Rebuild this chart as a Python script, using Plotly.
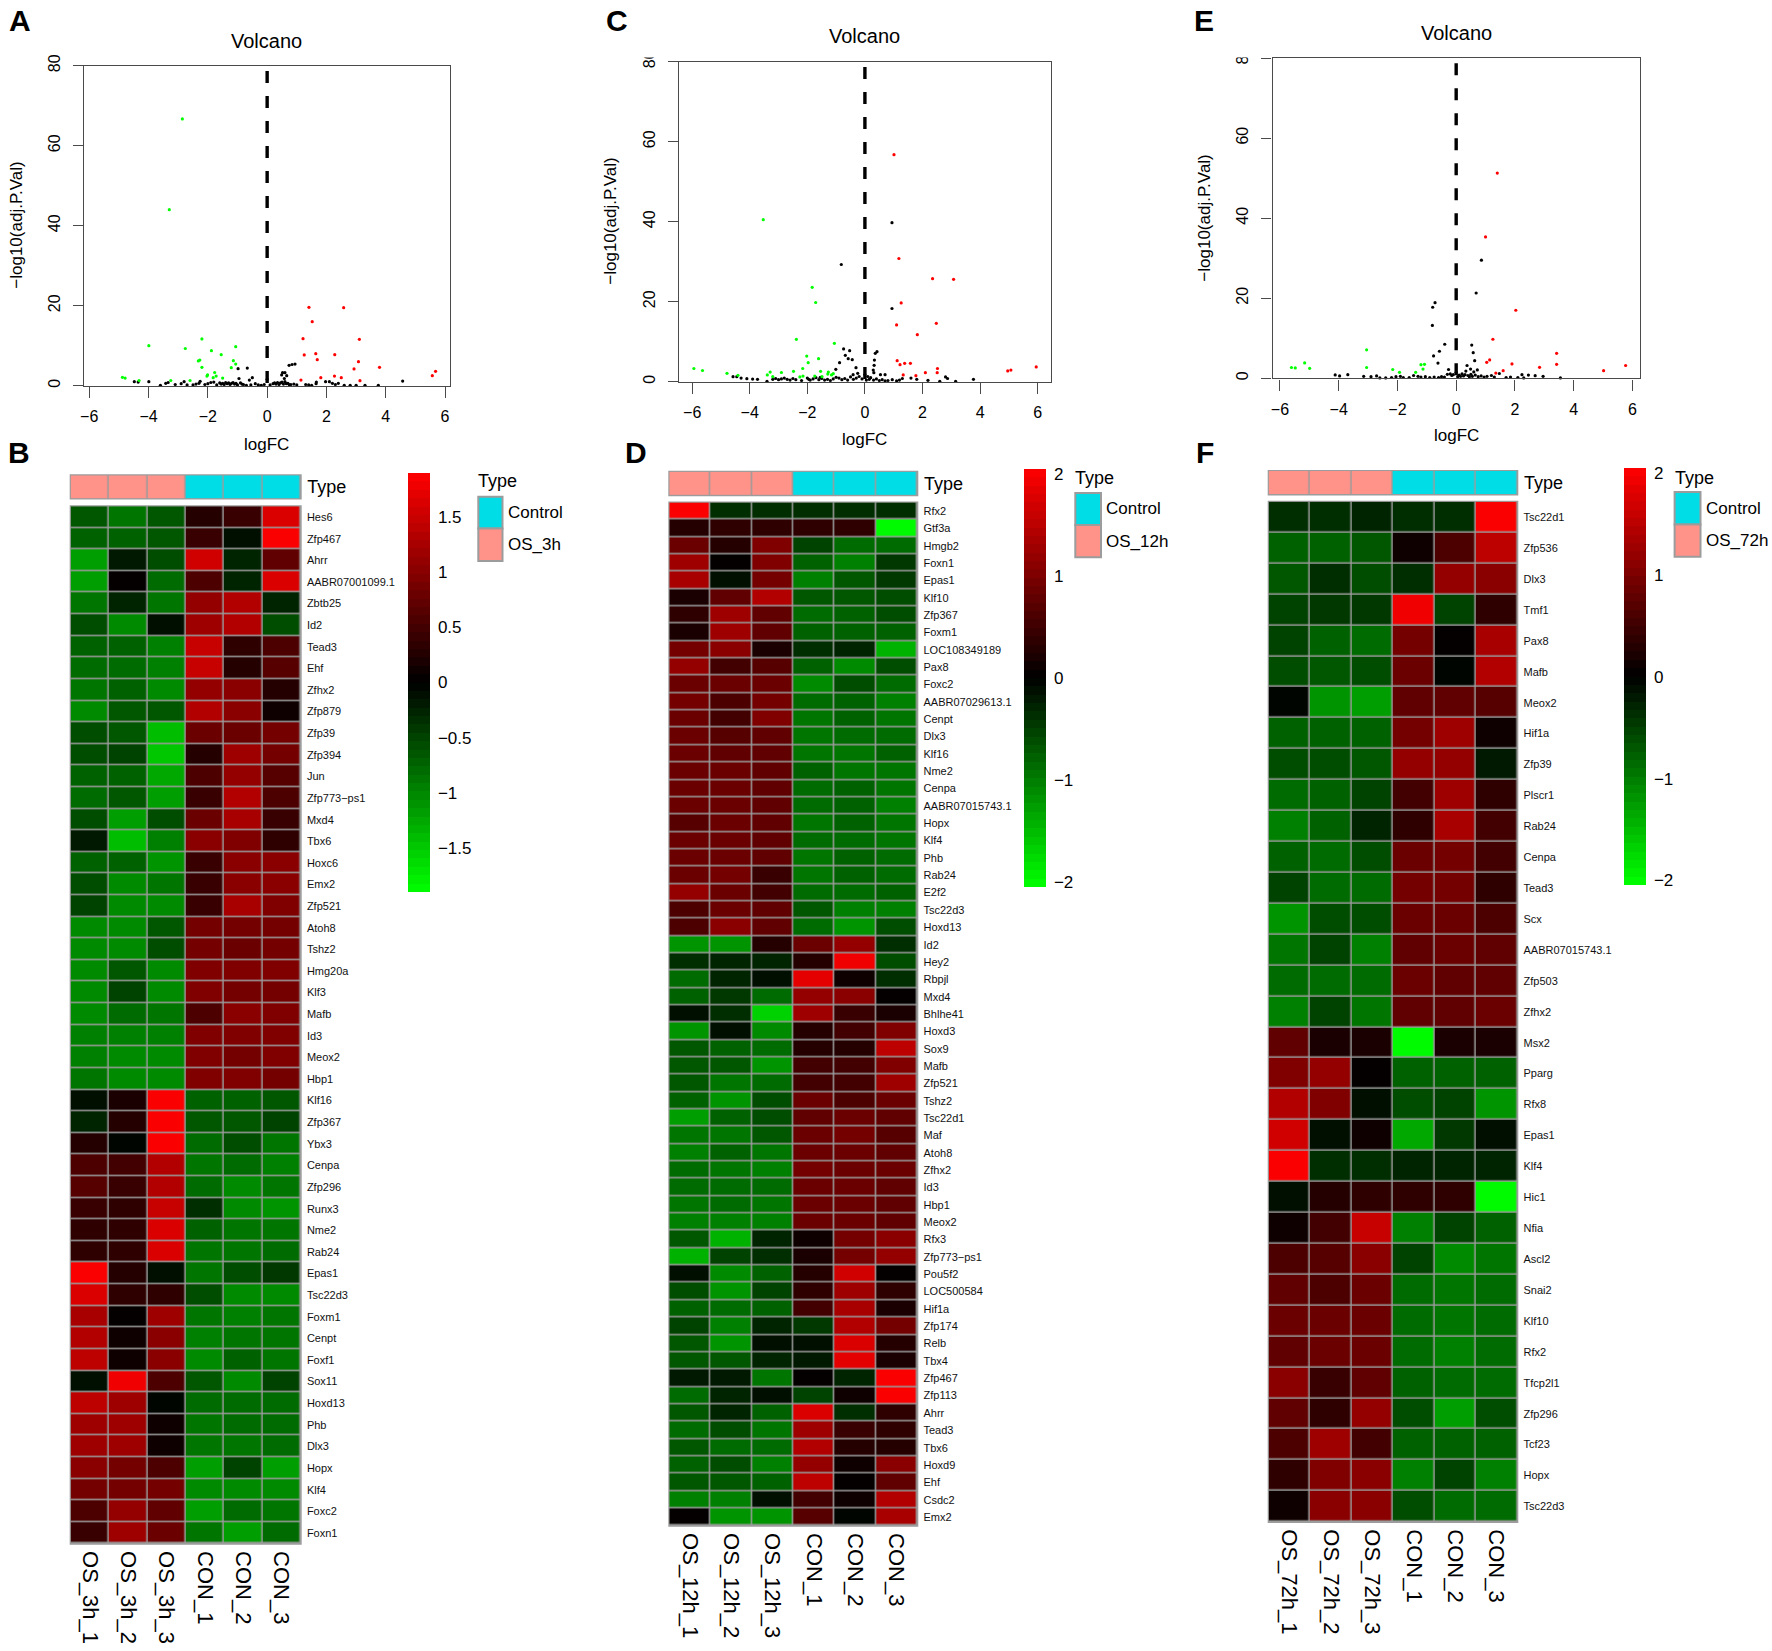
#!/usr/bin/env python3
"""Volcano plots and heatmaps for OS 3h / 12h / 72h vs control (panels A-F)."""

import plotly.graph_objects as go

W, H = 1772, 1651
FONT = "Liberation Sans"

# --- volcano data (logFC, -log10 adj.P) ---
a_green_x = [-2.86, -3.3, -3.99, -2.2, -2.76, -1.06, -1.88, -1.55, -1.14, -1.06, -2.27, -2.32, -2.2, -1.21, -1.77, -2.01, -2.03, -1.72, -1.82, -1.5, -4.88, -4.79, -4.32, -3.25, -2.6]
a_green_y = [66.7, 44, 10, 11.7, 9.3, 9.75, 8.75, 7.75, 6.25, 5.4, 6.4, 6.2, 4.6, 4.5, 3.3, 2.7, 2.4, 2.4, 2, 1.9, 2.1, 1.9, 1.3, 1.3, 1.3]
a_red_x = [1.41, 2.58, 1.52, 1.21, 3.11, 1.25, 1.64, 2.28, 1.69, 3.08, 3.79, 2.93, 5.68, 5.57, 2.27, 2.5, 1.81, 1.14, 3.13]
a_red_y = [19.6, 19.5, 16, 11.75, 11.6, 7.7, 8, 7.75, 6.5, 6, 4.6, 4.2, 3.6, 2.5, 2.4, 2, 2, 1.4, 1.25]
a_black_x = [4.57, 0.74, 0.84, 0.94, -0.67, -0.98, 0.52, 0.6, 0.49, 0.66, 0.58, -0.5, -0.95, -0.6, -4.48, -3.99, -4.35, -3.34, -3.42, -2.8, -2.26, 1.97, 2.1, 1.66,
             -3.6, -3.1, -2.9, -2.7, -2.5, -2.4, -2.3, -2.1, -2.0, -1.9, -1.8, -1.7, -1.6, -1.55, -1.5, -1.45, -1.4, -1.35, -1.3, -1.25, -1.2, -1.15, -1.1, -1.05, -1.0, -0.9, -0.85, -0.8, -0.7, -0.55, -0.4, -0.3, -0.2, -0.1,
             0.0, 0.1, 0.2, 0.25, 0.3, 0.35, 0.4, 0.45, 0.5, 0.55, 0.6, 0.65, 0.7, 0.75, 0.8, 0.9, 1.0, 1.3, 1.4, 1.5, 1.65, 2.2, 2.3, 2.4, 2.6, 2.8, 3.0, 3.3, 3.75]
a_black_y = [1.15, 5.1, 5.3, 5.4, 4.4, 4.25, 3.25, 3.25, 2.7, 2.5, 1.8, 2, 1.8, 1.4, 1, 1, 0.9, 0.8, 0.6, 1, 1.1, 1, 1, 0.9,
             0.1, 0.3, 0.5, 0.2, 0.2, 0.4, 0.6, 0.3, 0.5, 0.8, 0.9, 0.2, 0.7, 0.4, 0.6, 0.3, 0.8, 0.5, 0.7, 0.3, 0.6, 0.8, 0.4, 0.6, 0.2, 0.7, 0.4, 0.3, 0.1, 0.2, 0.5, 0.2, 0.1, 0.3,
             1.6, 0.2, 0.5, 0.7, 0.4, 0.8, 0.3, 0.7, 0.9, 0.4, 1.0, 0.5, 0.6, 0.2, 0.3, 0.4, 0.2, 0.3, 0.2, 0.1, 0.5, 0.6, 0.3, 0.6, 0.1, 0.1, 0.1, 0.1, 0.1]

c_green_x = [-3.53, -1.83, -1.71, -2.38, -1.06, -2.02, -1.61, -1.97, -5.94, -5.64, -4.79, -4.41, -3.39, -3.29, -3.2, -2.9, -2.48, -2.16, -2.26, -2.15, -1.74, -1.54, -1.49, -1.27, -1.29, -1.16, -1.1]
c_green_y = [40.5, 23.6, 19.8, 10.6, 9.6, 6.4, 5.75, 4.75, 3.3, 2.8, 2.1, 1.6, 1.7, 2.4, 1.25, 2.3, 2.6, 3.3, 1.2, 1.4, 1.4, 2.6, 1.25, 2.4, 1.9, 1.7, 2]
c_red_x = [1.01, 1.18, 2.35, 3.08, 1.26, 2.48, 1.1, 1.82, 1.12, 1.22, 1.38, 1.58, 2.52, 2.51, 2.1, 1.33, 1.77, 5.95, 5.07, 4.96]
c_red_y = [56.75, 30.8, 25.75, 25.6, 19.7, 14.6, 14.2, 11.75, 5.25, 4.25, 4.6, 4.6, 3.3, 2.25, 2.25, 1.7, 1.5, 3.7, 2.9, 2.7]
c_black_x = [0.94, -0.82, 0.94, -0.74, -0.53, 0.42, 0.36, -0.68, -0.58, -0.44, 0.33, 0.32, -0.88, -0.31, -1.01, 0.29, 0.31, -0.25, -0.41, 0.54, 0.7, -4.58, -4.45, -4.3, -4.1, -3.9, -3.73, 2.8, 2.87, 3.77, 2.19,
             -3.4, -3.2, -3.1, -3.0, -2.9, -2.8, -2.7, -2.6, -2.5, -2.4, -2.2, -2.0, -1.95, -1.9, -1.8, -1.7, -1.6, -1.55, -1.5, -1.4, -1.3, -1.2, -1.1, -1.0, -0.9, -0.8, -0.7, -0.6, -0.5, -0.4, -0.3, -0.2, -0.1,
             0.0, 0.05, 0.1, 0.15, 0.2, 0.3, 0.4, 0.5, 0.6, 0.7, 0.8, 0.95, 1.1, 1.2, 1.3, 1.6, 1.8, 2.6, 3.15]
c_black_y = [39.75, 29.3, 18.3, 8.2, 7.75, 7.5, 7.1, 6.6, 5.75, 5.5, 5.4, 4.1, 4.75, 3.5, 3.1, 2.9, 2.25, 2.1, 1.75, 1.75, 1.75, 1.25, 1.25, 0.9, 0.75, 0.65, 0.6, 1.2, 0.8, 0.6, 0.35,
             0.1, 0.6, 0.8, 0.5, 0.7, 0.9, 0.6, 0.4, 0.8, 0.5, 0.3, 0.9, 0.6, 0.4, 0.7, 1.0, 0.5, 1.1, 0.8, 0.4, 0.6, 0.3, 0.7, 1.1, 0.9, 0.5, 0.8, 0.4, 1.2, 0.6, 0.9, 1.3, 0.7,
             1.8, 0.4, 1.3, 0.6, 1.0, 0.4, 0.7, 0.3, 0.5, 0.2, 0.3, 0.5, 0.2, 0.4, 0.8, 0.9, 0.6, 0.1, 0.1]

e_green_x = [-5.61, -5.48, -5.16, -4.99, -3.05, -3.05, -2.16, -1.93, -1.38, -1.2, -1.08, -1.13]
e_green_y = [2.7, 2.6, 3.85, 2.5, 7.1, 2.7, 2.2, 1.5, 1.5, 3.4, 3.5, 2.3]
e_red_x = [1.4, 1.0, 2.03, 1.25, 3.42, 3.42, 1.14, 1.04, 1.9, 2.84, 5.77, 5.02, 1.6, 1.35]
e_red_y = [51.25, 35.3, 17, 9.75, 6.25, 3.5, 4.6, 4, 3.6, 2.75, 3.2, 1.9, 1.9, 1.3]
e_black_x = [0.86, 0.68, -0.72, -0.8, -0.81, -0.39, 0.53, -0.57, 0.58, -0.77, 0.63, -0.62, 0.37, 0.49, -0.26, 0.6, 0.72, 0.33, 1.47, -4.12, -3.97, -3.69, -3.15, -2.71, 2.24, 2.46, 2.69, 2.96, 3.55,
             -2.9, -2.6, -2.4, -2.2, -2.05, -1.9, -1.8, -1.6, -1.45, -1.3, -1.2, -1.05, -0.9, -0.75, -0.6, -0.5, -0.4, -0.3, -0.2, -0.15, -0.1, 0.0, 0.05, 0.1, 0.15, 0.2, 0.25, 0.3, 0.4, 0.45, 0.5, 0.55, 0.65, 0.75, 0.85, 0.95, 1.05, 1.2, 1.3, 1.7, 1.85, 2.1, 2.3]
e_black_y = [29.5, 21.3, 18.9, 17.75, 13.2, 8.5, 8.3, 6.75, 6.4, 5.6, 4.4, 3.8, 3.2, 2.3, 2.2, 1.6, 2.1, 1.8, 1.2, 0.85, 0.6, 0.9, 0.5, 0.6, 0.9, 0.8, 0.65, 0.5, 0.1,
             0.4, 0.1, 0.1, 0.2, 0.4, 0.5, 0.2, 0.2, 0.7, 0.5, 0.3, 0.4, 0.2, 0.3, 0.2, 0.4, 0.3, 1.0, 1.1, 0.7, 0.9, 1.5, 0.4, 0.8, 0.5, 1.1, 0.6, 0.9, 0.7, 0.4, 1.0, 0.5, 0.8, 0.4, 0.6, 0.3, 0.5, 0.7, 0.3, 0.2, 0.3, 0.2, 0.1]

# --- heatmap data ---
samples_b = ["OS_3h_1", "OS_3h_2", "OS_3h_3", "CON_1", "CON_2", "CON_3"]
samples_d = ["OS_12h_1", "OS_12h_2", "OS_12h_3", "CON_1", "CON_2", "CON_3"]
samples_f = ["OS_72h_1", "OS_72h_2", "OS_72h_3", "CON_1", "CON_2", "CON_3"]
type_codes = [1, 1, 1, 0, 0, 0]

genes_b = ["Hes6", "Zfp467", "Ahrr", "AABR07001099.1", "Zbtb25", "Id2", "Tead3", "Ehf", "Zfhx2", "Zfp879", "Zfp39", "Zfp394",
           "Jun", "Zfp773\u2212ps1", "Mxd4", "Tbx6", "Hoxc6", "Emx2", "Zfp521", "Atoh8", "Tshz2", "Hmg20a", "Klf3", "Mafb",
           "Id3", "Meox2", "Hbp1", "Klf16", "Zfp367", "Ybx3", "Cenpa", "Zfp296", "Runx3", "Nme2", "Rab24", "Epas1",
           "Tsc22d3", "Foxm1", "Cenpt", "Foxf1", "Sox11", "Hoxd13", "Phb", "Dlx3", "Hopx", "Klf4", "Foxc2", "Foxn1"]
values_b = [
    [-0.65, -0.85, -0.65, 0.25, 0.45, 1.65], [-0.7, -0.7, -0.65, 0.45, -0.1, 1.85], [-1.2, -0.2, -0.55, 1.55, -0.3, 0.7],
    [-1.2, 0.02, -0.8, 0.55, -0.25, 1.65], [-0.9, -0.25, -0.85, 1.1, 1.3, -0.3], [-0.55, -1.0, -0.15, 1.15, 1.35, -0.55],
    [-0.75, -0.75, -0.95, 1.45, 0.35, 0.55], [-0.8, -0.8, -0.95, 1.45, 0.3, 0.65], [-0.85, -0.75, -1.0, 1.1, 1.05, 0.3],
    [-1.0, -0.65, -0.65, 1.3, 1.05, 0.08], [-0.6, -0.65, -1.4, 0.8, 0.8, 0.85], [-0.55, -0.5, -1.5, 0.25, 1.15, 0.9],
    [-0.75, -0.7, -1.25, 0.6, 1.1, 0.65], [-0.8, -0.65, -1.2, 0.45, 1.3, 0.6], [-0.6, -1.15, -0.6, 0.8, 1.25, 0.4],
    [-0.2, -1.4, -0.95, 1.0, 0.95, 0.35], [-0.75, -0.7, -1.1, 0.45, 1.0, 1.05], [-0.6, -1.05, -0.85, 0.4, 1.05, 1.0],
    [-0.5, -1.0, -1.0, 0.45, 1.25, 0.95], [-1.0, -1.0, -0.65, 0.9, 0.85, 0.9], [-1.0, -1.0, -0.6, 0.85, 0.8, 0.9],
    [-1.0, -0.65, -1.0, 0.95, 0.95, 0.95], [-1.0, -0.5, -1.0, 0.95, 0.85, 0.9], [-1.0, -0.8, -0.85, 0.6, 1.0, 0.95],
    [-0.95, -0.95, -0.95, 0.95, 0.95, 0.95], [-0.95, -1.0, -1.0, 0.95, 0.9, 0.95], [-0.9, -1.0, -1.0, 0.95, 0.95, 0.9],
    [-0.1, 0.2, 1.9, -0.7, -0.75, -0.65], [-0.3, 0.25, 1.9, -0.65, -0.65, -0.5], [0.3, -0.02, 1.85, -0.8, -0.55, -0.85],
    [0.6, 0.5, 1.35, -0.9, -0.8, -0.95], [0.65, 0.4, 1.35, -0.8, -1.05, -0.85], [0.4, 0.35, 1.5, -0.35, -1.05, -1.1],
    [0.35, 0.35, 1.6, -0.75, -0.9, -0.9], [0.35, 0.35, 1.6, -0.85, -0.85, -0.8], [1.9, 0.25, -0.12, -0.85, -0.55, -0.4],
    [1.65, 0.35, 0.35, -0.6, -1.0, -1.0], [1.25, 0.0, 1.2, -0.85, -0.95, -0.85], [1.35, 0.1, 1.05, -0.95, -0.9, -0.9],
    [1.4, 0.1, 1.05, -1.05, -0.75, -0.85], [-0.1, 1.75, 0.6, -0.65, -1.0, -0.5], [1.4, 1.15, -0.02, -0.8, -0.8, -0.8],
    [1.15, 1.15, 0.08, -0.85, -0.8, -0.8], [1.15, 1.15, 0.08, -0.9, -0.85, -0.8], [1.05, 0.85, 0.6, -1.15, -0.5, -1.15],
    [0.85, 0.9, 0.85, -1.0, -1.0, -1.0], [0.6, 1.1, 0.75, -1.15, -0.8, -0.9], [0.45, 1.15, 0.8, -0.85, -1.15, -0.8],
]

genes_d = ["Rfx2", "Gtf3a", "Hmgb2", "Foxn1", "Epas1", "Klf10", "Zfp367", "Foxm1", "LOC108349189", "Pax8", "Foxc2", "AABR07029613.1",
           "Cenpt", "Dlx3", "Klf16", "Nme2", "Cenpa", "AABR07015743.1", "Hopx", "Klf4", "Phb", "Rab24", "E2f2", "Tsc22d3",
           "Hoxd13", "Id2", "Hey2", "Rbpjl", "Mxd4", "Bhlhe41", "Hoxd3", "Sox9", "Mafb", "Zfp521", "Tshz2", "Tsc22d1",
           "Maf", "Atoh8", "Zfhx2", "Id3", "Hbp1", "Meox2", "Rfx3", "Zfp773\u2212ps1", "Pou5f2", "LOC500584", "Hif1a", "Zfp174",
           "Relb", "Tbx4", "Zfp467", "Zfp113", "Ahrr", "Tead3", "Tbx6", "Hoxd9", "Ehf", "Csdc2", "Emx2"]
values_d = [
    [2.05, -0.4, -0.4, -0.4, -0.35, -0.35], [0.3, 0.35, 0.35, 0.35, 0.4, -2.05], [0.85, 0.25, 1.05, -0.55, -0.9, -0.85],
    [1.3, 0.02, 1.0, -0.75, -1.0, -0.45], [1.35, -0.1, 0.95, -1.0, -0.7, -0.45], [0.2, 0.75, 1.4, -0.7, -0.7, -0.6],
    [0.4, 1.25, 0.75, -0.9, -0.75, -0.6], [0.2, 1.3, 0.8, -0.8, -0.75, -0.75], [0.95, 1.1, 0.2, -0.4, -0.25, -1.4],
    [1.15, 0.5, 0.7, -0.75, -1.1, -0.6], [0.9, 0.9, 0.85, -1.1, -0.65, -0.85], [0.95, 0.6, 0.95, -0.85, -0.8, -1.05],
    [0.9, 0.55, 1.0, -0.95, -0.75, -0.95], [0.85, 0.7, 0.75, -0.95, -0.9, -0.9], [0.9, 0.75, 0.75, -0.95, -0.95, -0.8],
    [0.85, 0.85, 0.8, -0.8, -0.95, -0.95], [0.85, 0.85, 0.8, -0.85, -0.8, -0.95], [0.85, 0.85, 0.8, -0.85, -0.75, -1.0],
    [0.7, 0.85, 0.8, -0.95, -0.75, -0.95], [0.85, 0.85, 0.8, -0.9, -0.9, -0.95], [0.85, 0.85, 0.75, -0.95, -0.8, -0.85],
    [0.9, 0.95, 0.45, -0.95, -0.75, -0.9], [1.15, 0.85, 0.55, -0.9, -0.9, -0.75], [0.6, 0.9, 0.8, -0.7, -1.0, -1.05],
    [0.6, 1.1, 0.75, -0.85, -1.15, -0.65], [-1.15, -1.15, 0.25, 0.85, 1.15, -0.35], [-0.35, -0.3, -0.25, 0.3, 1.9, -0.65],
    [-0.85, -0.3, -0.15, 1.85, 0.15, -0.4], [-0.75, -0.45, -0.85, 1.15, 1.1, 0.0], [-0.1, -0.35, -1.65, 1.25, 0.45, 0.2],
    [-1.15, -0.15, -1.1, 0.3, 0.55, 1.05], [-0.7, -0.75, -0.85, 0.25, 0.25, 1.5], [-0.7, -0.7, -1.2, 0.5, 0.5, 1.05],
    [-0.7, -0.95, -0.85, 0.5, 0.55, 1.3], [-0.75, -1.15, -0.65, 0.85, 0.6, 0.9], [-1.25, -0.8, -0.6, 0.8, 0.85, 0.8],
    [-0.95, -0.95, -0.7, 0.85, 0.95, 0.7], [-1.05, -0.75, -0.95, 0.9, 0.9, 0.8], [-0.85, -0.95, -1.0, 0.95, 0.85, 0.85],
    [-0.9, -0.85, -0.85, 0.9, 0.85, 0.8], [-0.95, -0.9, -0.95, 0.9, 0.85, 0.8], [-1.0, -1.0, -1.0, 0.9, 0.85, 0.8],
    [-0.7, -1.4, -0.3, 0.15, 0.95, 1.1], [-1.45, -0.55, -0.35, 0.2, 0.95, 1.15], [-0.15, -1.1, -0.75, 0.3, 1.7, 0.0],
    [-0.6, -1.2, -0.55, 0.35, 1.3, 0.4], [-0.75, -0.9, -0.8, 0.55, 1.35, 0.2], [-0.5, -1.0, -0.25, -0.45, 1.4, 0.95],
    [-0.7, -1.15, -0.1, -0.1, 1.75, 0.3], [-0.7, -0.7, -0.3, -0.2, 1.85, 0.2], [-0.2, -0.2, -0.95, 0.02, -0.25, 2.0],
    [-0.9, -0.25, -0.12, -0.55, 0.12, 2.0], [-0.7, -0.3, -0.8, 1.75, -0.4, 0.4], [-0.9, -0.6, -0.95, 1.25, 0.45, 0.4],
    [-0.7, -0.9, -0.85, 1.4, 0.3, 0.3], [-0.8, -0.6, -1.05, 1.2, 0.12, 1.1], [-0.7, -0.7, -0.75, 1.5, 0.0, 0.8],
    [-1.0, -1.0, -0.12, 0.55, 0.15, 1.45], [0.0, -1.15, -1.15, 0.7, -0.03, 1.35],
]

genes_f = ["Tsc22d1", "Zfp536", "Dlx3", "Tmf1", "Pax8", "Mafb", "Meox2", "Hif1a", "Zfp39", "Plscr1", "Rab24", "Cenpa",
           "Tead3", "Scx", "AABR07015743.1", "Zfp503", "Zfhx2", "Msx2", "Pparg", "Rfx8", "Epas1", "Klf4", "Hic1", "Nfia",
           "Ascl2", "Snai2", "Klf10", "Rfx2", "Tfcp2l1", "Zfp296", "Tcf23", "Hopx", "Tsc22d3"]
values_f = [
    [-0.35, -0.35, -0.3, -0.35, -0.35, 2.05], [-0.8, -0.75, -0.7, 0.15, 0.6, 1.5], [-0.7, -0.4, -0.6, -0.4, 1.2, 1.1],
    [-0.5, -0.45, -0.45, 1.9, -0.5, 0.35], [-0.55, -0.75, -0.9, 0.95, 0.02, 1.35], [-0.6, -0.7, -0.6, 0.9, -0.03, 1.4],
    [-0.02, -1.2, -1.25, 0.8, 0.8, 0.7], [-0.75, -0.75, -0.75, 0.95, 1.3, 0.15], [-0.65, -0.65, -0.7, 1.15, 1.2, -0.2],
    [-0.85, -0.8, -0.55, 0.55, 1.25, 0.4], [-1.0, -0.75, -0.3, 0.35, 1.35, 0.5], [-0.8, -0.9, -0.65, 0.9, 0.95, 0.55],
    [-0.5, -0.85, -0.85, 0.95, 0.95, 0.4], [-1.2, -0.65, -0.65, 0.85, 0.85, 0.65], [-0.95, -0.5, -1.0, 0.8, 0.85, 0.75],
    [-0.85, -0.85, -0.9, 0.85, 0.8, 0.8], [-1.0, -0.55, -0.95, 0.8, 0.8, 0.85], [0.8, 0.2, 0.2, -2.05, 0.2, 0.2],
    [1.05, 1.2, 0.0, -0.8, -0.8, -0.8], [1.4, 1.0, -0.15, -0.6, -0.55, -1.15], [1.7, -0.1, 0.15, -1.35, -0.45, -0.1],
    [2.05, -0.35, -0.35, -0.3, -0.3, -0.3], [-0.1, 0.3, 0.35, 0.35, 0.35, -2.05], [0.15, 0.5, 1.6, -1.0, -0.5, -0.8],
    [0.6, 0.7, 1.1, -0.55, -1.1, -0.95], [0.8, 0.65, 0.9, -0.85, -0.95, -0.85], [0.85, 0.85, 0.85, -0.85, -0.95, -0.85],
    [0.8, 0.85, 0.85, -0.85, -1.0, -0.85], [1.1, 0.45, 0.8, -0.8, -0.9, -0.85], [0.8, 0.35, 1.15, -0.65, -1.3, -0.6],
    [0.6, 1.25, 0.55, -0.8, -0.8, -0.75], [0.4, 1.05, 1.1, -1.0, -0.55, -1.05], [0.15, 1.1, 1.1, -0.65, -0.9, -0.9],
]

ticks_b = [-1.5, -1, -0.5, 0, 0.5, 1, 1.5]
ticks_df = [-2, -1, 0, 1, 2]


def px(x):
    return x / W


def py(y):
    return 1 - y / H


def ramp():
    # pheatmap style: 50 steps green - black - red
    scale = []
    for i in range(50):
        t = (i + 0.5) / 50
        if t < 0.5:
            col = f"rgb(0,{round(255 * (1 - 2 * t))},0)"
        else:
            col = f"rgb({round(255 * (2 * t - 1))},0,0)"
        scale += [[i / 50, col], [(i + 1) / 50, col]]
    return scale


fig = go.Figure()
shapes = []
annotations = []
axes = {}
n_axis = 0


def text(x, y, s, size, bold=False, angle=0, anchor="center"):
    annotations.append(dict(
        x=px(x), y=py(y), xref="paper", yref="paper", text=f"<b>{s}</b>" if bold else s,
        showarrow=False, xanchor=anchor, yanchor="middle", textangle=angle,
        font=dict(family=FONT, size=size, color="black"),
    ))


def new_axes(left, right, top, bottom):
    global n_axis
    n_axis += 1
    sfx = "" if n_axis == 1 else str(n_axis)
    axes["xaxis" + sfx] = dict(domain=[px(left), px(right)], anchor="y" + sfx)
    axes["yaxis" + sfx] = dict(domain=[py(bottom), py(top)], anchor="x" + sfx)
    return "x" + sfx, "y" + sfx, "xaxis" + sfx, "yaxis" + sfx


def volcano(left, right, top, bottom, xr, green, red, black, title_x, title_y, label_y, ylab_x):
    xa, ya, xk, yk = new_axes(left, right, top, bottom)
    line_col = "#4a4a4a"
    common = dict(showgrid=False, zeroline=False, showline=True, mirror=True, linecolor=line_col, linewidth=1.4,
                  ticks="outside", tickcolor=line_col, tickwidth=1.2, tickfont=dict(family=FONT, size=16, color="black"))
    axes[xk].update(common, range=xr, tickvals=[-6, -4, -2, 0, 2, 4, 6], ticklen=11, ticklabelstandoff=5)
    axes[yk].update(common, range=[0, 80], tickvals=[0, 20, 40, 60, 80], ticklen=10, tickangle=-90, ticklabelstandoff=7)
    for (xs, ys), col in ((black, "black"), (green, "#00ff00"), (red, "#ff0000")):
        fig.add_trace(go.Scatter(x=xs, y=ys, mode="markers", xaxis=xa, yaxis=ya, showlegend=False,
                                 cliponaxis=False, marker=dict(color=col, size=3.2, line=dict(width=0))))
    shapes.append(dict(type="line", xref=xa, yref=ya, x0=0, x1=0, y0=78.7, y1=0,
                       line=dict(color="black", width=3.4, dash="12px,13px")))
    text(title_x, title_y, "Volcano", 20)
    text(title_x, label_y, "logFC", 17)
    text(ylab_x, (top + bottom) / 2, "\u2212log10(adj.P.Val)", 17, angle=-90)


def heatmap(left, right, ann_top, ann_bot, top, bottom, genes, values, samples, lim, ticks, bar, legend, case_name):
    gray = "#9c9c9c"
    # annotation strip
    xa, ya, xk, yk = new_axes(left, right, ann_top, ann_bot)
    shapes.append(dict(type="rect", xref="paper", yref="paper", x0=px(left), x1=px(right), y0=py(ann_bot), y1=py(ann_top),
                       fillcolor=gray, line=dict(color=gray, width=2), layer="below"))
    fig.add_trace(go.Heatmap(z=[type_codes], x=samples, y=["Type"], xaxis=xa, yaxis=ya, showscale=False, zmin=0, zmax=1,
                             colorscale=[[0, "#00dde6"], [1, "#ff9289"]], xgap=1.5, ygap=0, hoverongaps=False))
    axes[xk].update(showticklabels=False, ticks="", showgrid=False, zeroline=False)
    axes[yk].update(side="right", showgrid=False, zeroline=False, ticks="outside", ticklen=2, tickcolor="rgba(0,0,0,0)",
                    tickfont=dict(family=FONT, size=18, color="black"))
    # main body
    xa, ya, xk, yk = new_axes(left, right, top, bottom)
    shapes.append(dict(type="rect", xref="paper", yref="paper", x0=px(left), x1=px(right), y0=py(bottom), y1=py(top),
                       fillcolor=gray, line=dict(color=gray, width=2), layer="below"))
    fig.add_trace(go.Heatmap(
        z=values, x=samples, y=genes, xaxis=xa, yaxis=ya, zmin=-lim, zmax=lim, colorscale=ramp(), xgap=1.5, ygap=1.5,
        colorbar=dict(
            x=px(bar[0]), xanchor="left", xpad=0, y=py(bar[2]), yanchor="top", ypad=0,
            thickness=bar[1] - bar[0], thicknessmode="pixels", len=bar[3] - bar[2], lenmode="pixels",
            outlinewidth=0, tickvals=ticks, ticktext=[str(t).replace("-", "\u2212") for t in ticks],
            ticks="outside", ticklen=5, tickcolor="rgba(0,0,0,0)", tickfont=dict(family=FONT, size=17, color="black"),
        ),
    ))
    axes[xk].update(tickmode="array", tickvals=samples, ticktext=samples, tickangle=90, showgrid=False, zeroline=False,
                    ticks="outside", ticklen=2, tickcolor="rgba(0,0,0,0)", tickfont=dict(family=FONT, size=22, color="black"))
    axes[yk].update(tickmode="array", tickvals=genes, ticktext=genes, autorange="reversed", side="right", showgrid=False,
                    zeroline=False, ticks="outside", ticklen=3, tickcolor="rgba(0,0,0,0)",
                    tickfont=dict(family=FONT, size=11, color="#111111"))
    # legend block
    lx0, lx1, ly0, ly1, ly2, ltype = legend
    shapes.append(dict(type="rect", xref="paper", yref="paper", x0=px(lx0), x1=px(lx1), y0=py(ly1), y1=py(ly0),
                       fillcolor="#00dde6", line=dict(color=gray, width=2)))
    shapes.append(dict(type="rect", xref="paper", yref="paper", x0=px(lx0), x1=px(lx1), y0=py(ly2), y1=py(ly1),
                       fillcolor="#ff9289", line=dict(color=gray, width=2)))
    text(lx0 - 2, ltype, "Type", 18, anchor="left")
    text(lx1 + 3, (ly0 + ly1) / 2, "Control", 17, anchor="left")
    text(lx1 + 3, (ly1 + ly2) / 2, case_name, 17, anchor="left")


volcano(84.2, 450.4, 65.7, 385.7, [-6.17, 6.18], (a_green_x, a_green_y), (a_red_x, a_red_y), (a_black_x, a_black_y),
        266.7, 40.7, 444, 17)
volcano(679.2, 1051.2, 61.7, 381.7, [-6.45, 6.47], (c_green_x, c_green_y), (c_red_x, c_red_y), (c_black_x, c_black_y),
        864.4, 36, 440, 611)
volcano(1272.5, 1640.3, 58, 378.3, [-6.255, 6.27], (e_green_x, e_green_y), (e_red_x, e_red_y), (e_black_x, e_black_y),
        1456, 32.7, 436, 1204.5)

heatmap(70.7, 300.7, 475.3, 498.6, 506.3, 1543.7, genes_b, values_b, samples_b, 1.9, ticks_b,
        (407.7, 429.3, 473, 892), (478.3, 502.5, 496.7, 528.5, 561, 481), "OS_3h")
heatmap(669.3, 917.3, 471.8, 495.2, 502.4, 1525.7, genes_d, values_d, samples_d, 2.05, ticks_df,
        (1024.3, 1046, 469, 887.4), (1075.3, 1101, 492.9, 525, 557.2, 478), "OS_12h")
heatmap(1268.7, 1517.3, 471, 494.4, 501.7, 1521.9, genes_f, values_f, samples_f, 2.05, ticks_df,
        (1623.8, 1645.5, 468.4, 885.5), (1674.6, 1700.5, 492, 524.6, 556.8, 477.6), "OS_72h")

# panel letters
for lx, ly, letter in [(7, 20.5, "A"), (5.5, 453, "B"), (603.5, 20.5, "C"), (622.5, 453, "D"), (1191.5, 20.5, "E"), (1193.5, 453, "F")]:
    text(lx, ly, letter, 30, bold=True, anchor="left")

# the top "80" tick label is cut off in panels C and E
for cx, cy, cw, ch in [(650, 52, 26, 9), (1244, 52, 26, 8)]:
    annotations.append(dict(x=px(cx), y=py(cy), xref="paper", yref="paper", text=" ", showarrow=False,
                            width=cw, height=ch, bgcolor="white", xanchor="center", yanchor="middle"))

fig.update_layout(
    width=W, height=H, margin=dict(l=0, r=0, t=0, b=0, autoexpand=False),
    paper_bgcolor="white", plot_bgcolor="white", showlegend=False,
    shapes=shapes, annotations=annotations, **axes,
)

# page default has an 8px body margin, would push the figure out of the window
fig.write_html("out.html", config={"displayModeBar": False},
               post_script="document.body.style.margin='0';document.documentElement.style.overflow='hidden';")
